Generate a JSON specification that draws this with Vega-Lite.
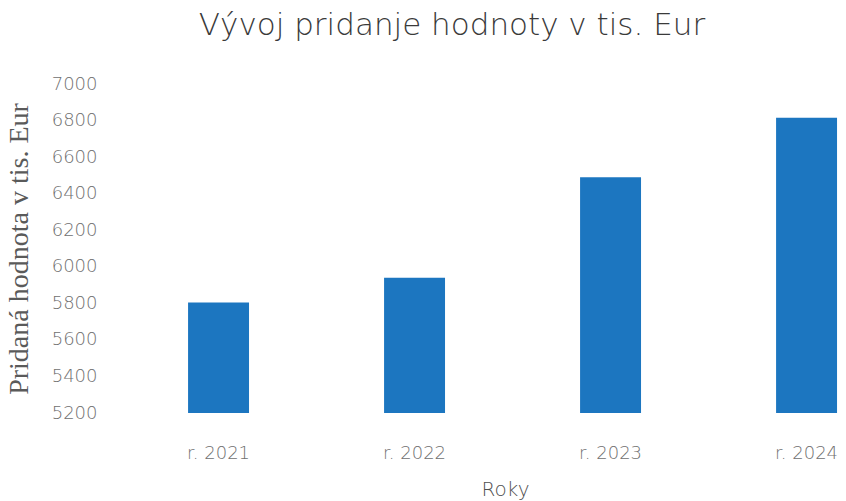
{
  "$schema": "https://vega.github.io/schema/vega-lite/v6.json",
  "width": 736,
  "height": 329,
  "autosize": {"type": "none"},
  "padding": {"left": 110, "top": 84, "right": 0, "bottom": 88},
  "background": "white",
  "title": {
    "text": "Vývoj pridanje hodnoty v tis. Eur",
    "font": "DejaVu Sans",
    "fontWeight": 200,
    "fontSize": 31,
    "color": "#3a3a3a",
    "anchor": "middle",
    "baseline": "alphabetic",
    "dx": -26,
    "offset": 9
  },
  "config": {"view": {"stroke": null}},
  "data": {
    "values": [
      {"rok": "r. 2021", "hodnota": 5805},
      {"rok": "r. 2022", "hodnota": 5940},
      {"rok": "r. 2023", "hodnota": 6490},
      {"rok": "r. 2024", "hodnota": 6815}
    ]
  },
  "mark": {"type": "bar", "color": "#1c76c0", "clip": true},
  "encoding": {
    "x": {
      "field": "rok",
      "type": "nominal",
      "sort": null,
      "scale": {"paddingInner": 0.689, "paddingOuter": 0.222, "align": 0.897},
      "axis": {
        "title": "Roky",
        "titleFont": "DejaVu Sans",
        "titleFontWeight": 200,
        "titleFontSize": 20,
        "titleColor": "#505050",
        "titleX": 395,
        "titlePadding": 17,
        "labelFont": "DejaVu Sans",
        "labelFontWeight": 200,
        "labelFontSize": 18,
        "labelColor": "#707070",
        "labelAngle": 0,
        "labelPadding": 31,
        "domain": false,
        "ticks": false,
        "grid": false
      }
    },
    "y": {
      "field": "hodnota",
      "type": "quantitative",
      "scale": {"domain": [5200, 7000], "zero": false, "nice": false},
      "axis": {
        "values": [5200, 5400, 5600, 5800, 6000, 6200, 6400, 6600, 6800, 7000],
        "format": "d",
        "title": "Pridaná hodnota v tis. Eur",
        "titleFont": "Liberation Serif",
        "titleFontWeight": "normal",
        "titleFontSize": 28,
        "titleColor": "#5a5a5a",
        "titlePadding": 18,
        "labelFont": "DejaVu Sans",
        "labelFontWeight": 200,
        "labelFontSize": 18,
        "labelColor": "#707070",
        "labelPadding": 13,
        "domain": false,
        "ticks": false,
        "grid": false
      }
    },
    "y2": {"datum": 5200}
  }
}
